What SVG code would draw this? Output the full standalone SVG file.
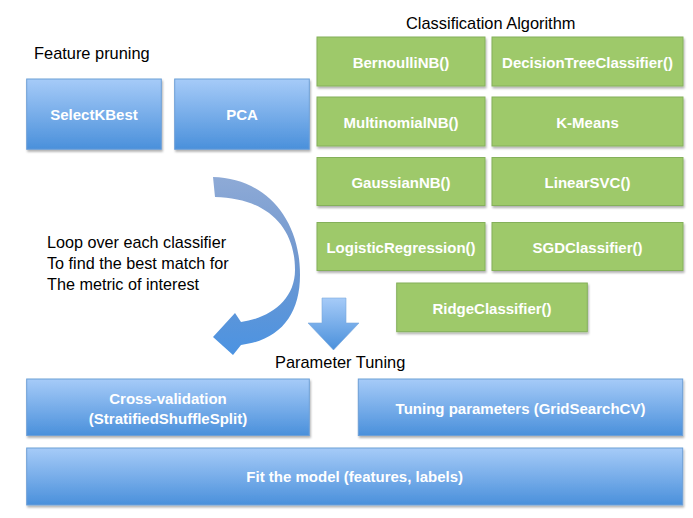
<svg xmlns="http://www.w3.org/2000/svg" width="693" height="518" viewBox="0 0 693 518">
  <defs>
    <linearGradient id="blueGrad" x1="0" y1="0" x2="0" y2="1">
      <stop offset="0" stop-color="#a6cbf8"/>
      <stop offset="1" stop-color="#4a90db"/>
    </linearGradient>
    <linearGradient id="curveGrad" x1="0" y1="0" x2="0" y2="1">
      <stop offset="0" stop-color="#8eaad6"/>
      <stop offset="0.45" stop-color="#7198cf"/>
      <stop offset="1" stop-color="#4b93e2"/>
    </linearGradient>
    <filter id="shadow" x="-5%" y="-10%" width="115%" height="130%">
      <feDropShadow dx="1" dy="2" stdDeviation="1.3" flood-color="#000" flood-opacity="0.3"/>
    </filter>
    <style>
      .blue { fill: url(#blueGrad); stroke: #6d9fd6; stroke-width: 1; filter: url(#shadow); }
      .green { fill: #9ec96b; stroke: #84b05a; stroke-width: 1; filter: url(#shadow); }
      .lbl { font-family: "Liberation Sans", Arial, sans-serif; font-size: 15px; font-weight: bold; fill: #ffffff; text-anchor: middle; }
      .head { font-family: "Liberation Sans", Arial, sans-serif; font-size: 16.4px; fill: #000000; }
      .body { font-family: "Liberation Sans", Arial, sans-serif; font-size: 16.2px; fill: #000000; }
    </style>
  </defs>
  <rect x="0" y="0" width="693" height="518" fill="#ffffff"/>

  <text class="head" x="34" y="59">Feature pruning</text>
  <text class="head" x="406" y="29">Classification Algorithm</text>
  <text class="head" x="275" y="368">Parameter Tuning</text>
  <text class="body" x="47" y="248">Loop over each classifier</text>
  <text class="body" x="47" y="268.5">To find the best match for</text>
  <text class="body" x="47" y="289.5">The metric of interest</text>

  <g id="selectkbest"><rect class="blue" x="26.7" y="79" width="134.6" height="70.3"/><text class="lbl" x="94" y="120">SelectKBest</text></g>
  <g id="pca"><rect class="blue" x="174.7" y="79" width="134.6" height="70.3"/><text class="lbl" x="242" y="120">PCA</text></g>

  <g id="bernoullinb"><rect class="green" x="317" y="37" width="168" height="49"/><text class="lbl" x="401" y="67.5">BernoulliNB()</text></g>
  <g id="decisiontree"><rect class="green" x="492" y="37" width="191" height="49"/><text class="lbl" x="587.5" y="67.5">DecisionTreeClassifier()</text></g>
  <g id="multinomialnb"><rect class="green" x="317" y="97" width="168" height="49"/><text class="lbl" x="401" y="127.5">MultinomialNB()</text></g>
  <g id="kmeans"><rect class="green" x="492" y="97" width="191" height="49"/><text class="lbl" x="587.5" y="127.5">K-Means</text></g>
  <g id="gaussiannb"><rect class="green" x="317" y="157.5" width="168" height="48"/><text class="lbl" x="401" y="187.5">GaussianNB()</text></g>
  <g id="linearsvc"><rect class="green" x="492" y="157.5" width="191" height="48"/><text class="lbl" x="587.5" y="187.5">LinearSVC()</text></g>
  <g id="logisticregression"><rect class="green" x="317" y="222.5" width="168" height="48"/><text class="lbl" x="401" y="252.5">LogisticRegression()</text></g>
  <g id="sgdclassifier"><rect class="green" x="492" y="222.5" width="191" height="48"/><text class="lbl" x="587.5" y="252.5">SGDClassifier()</text></g>
  <g id="ridgeclassifier"><rect class="green" x="396.7" y="283" width="190.6" height="48.7"/><text class="lbl" x="492" y="313.5">RidgeClassifier()</text></g>

  <g id="crossvalidation"><rect class="blue" x="26.7" y="379" width="282.6" height="56.5"/><text class="lbl" x="168" y="404">Cross-validation</text><text class="lbl" x="168" y="424">(StratifiedShuffleSplit)</text></g>
  <g id="tuning"><rect class="blue" x="358.3" y="379" width="324.4" height="56.5"/><text class="lbl" x="520.5" y="414">Tuning parameters (GridSearchCV)</text></g>
  <g id="fit"><rect class="blue" x="26.7" y="448" width="656" height="57"/><text class="lbl" x="354.7" y="482">Fit the model (features, labels)</text></g>

  <g id="connectors">
    <path d="M 213,177 C 262,178 300,215 300,275 C 300,315 280,340 241,345 L 233,355 L 213,337 L 235,313 L 241,322 C 270,318 295,300 295,270 C 295,225 265,198 215,197 Z" fill="url(#curveGrad)"/>
    <path d="M 322,298 H 346 V 323 H 359 L 333.5,350 L 308,323 H 322 Z" fill="url(#blueGrad)" stroke="#7aa8dc" stroke-width="0.6"/>
  </g>
</svg>
